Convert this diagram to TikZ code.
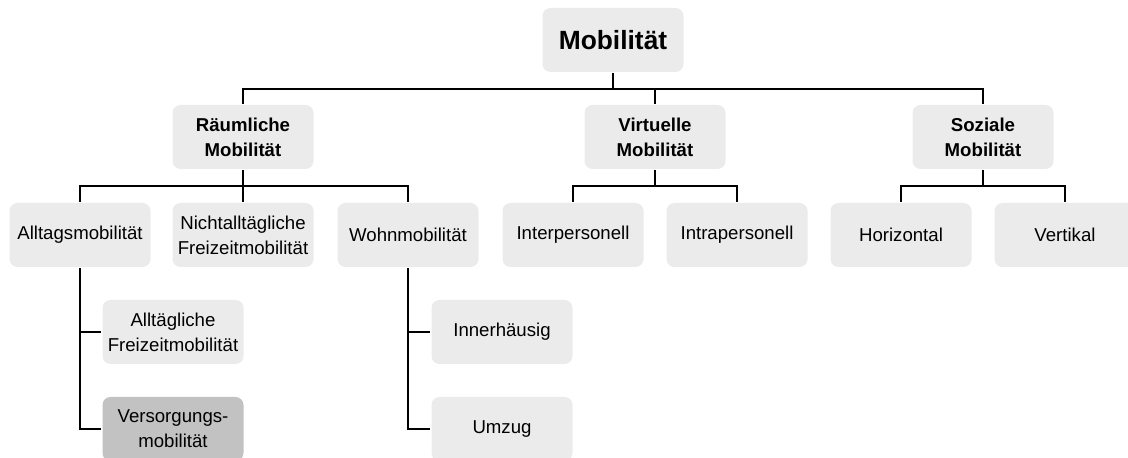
\documentclass[tikz,border=0pt]{standalone}
\usepackage{fontspec}
\setmainfont{Liberation Sans}
\usepackage{tikz}
\usetikzlibrary{positioning}
\definecolor{boxgray}{RGB}{235,235,235}
\definecolor{selgray}{RGB}{194,194,194}

\begin{document}
\begin{tikzpicture}
            [line width=1.6pt,
            a/.style={text centered,align=center,rounded corners=0.16cm,fill=boxgray,
                minimum width=2.82cm,minimum height=1.28cm,inner sep=0pt,
                font=\fontsize{10.6}{14.2}\selectfont},
            b/.style={a,font=\fontsize{10.6}{14.2}\selectfont\bfseries},
            s/.style={a,fill=selgray}]
            \useasboundingbox (0,0) rectangle (22.56,-9.16);
            \node[a,font=\fontsize{15}{18}\selectfont\bfseries] (mob) at (12.26,-0.80) {Mobilität};
            % zweite Ebene
            \node[b] (raum) at (4.86,-2.74) {Räumliche\\Mobilität};
            \node[b] (virt) at (13.10,-2.74) {Virtuelle\\Mobilität};
            \node[b] (soz) at (19.66,-2.74) {Soziale\\Mobilität};
            % dritte Ebene
            \node[a] (allt) at (1.60,-4.70) {Alltagsmobilität};
            \node[a] (nicht) at (4.86,-4.70) {Nichtalltägliche\\Freizeitmobilität};
            \node[a] (wohn) at (8.16,-4.70) {Wohnmobilität};
            \node[a] (inter) at (11.46,-4.70) {Interpersonell};
            \node[a] (intra) at (14.74,-4.70) {Intrapersonell};
            \node[a] (hori) at (18.02,-4.70) {Horizontal};
            \node[a] (vert) at (21.30,-4.70) {Vertikal};
            % vierte Ebene
            \node[a] (altf) at (3.46,-6.64) {Alltägliche\\Freizeitmobilität};
            \node[s] (vers) at (3.46,-8.58) {Versorgungs-\\mobilität};
            \node[a] (inner) at (10.04,-6.64) {Innerhäusig};
            \node[a] (umz) at (10.04,-8.58) {Umzug};

            \coordinate (b0) at (0,-1.78);
            \coordinate (b1) at (0,-3.72);
            \draw (raum.north) |- (b0 -| soz.north) -- (soz.north);
            \draw (mob.south) -- (mob.south |- b0);
            \draw (virt.north) -- (virt.north |- b0);

            \draw (allt.north) |- (b1 -| wohn.north) -- (wohn.north);
            \draw (raum.south) -- (nicht.north);
            \draw (inter.north) |- (b1 -| intra.north) -- (intra.north);
            \draw (virt.south) -- (virt.south |- b1);
            \draw (hori.north) |- (b1 -| vert.north) -- (vert.north);
            \draw (soz.south) -- (soz.south |- b1);

            \draw (allt.south) |- (vers.west);
            \draw (allt.south |- altf.west) -- (altf.west);
            \draw (wohn.south) |- (umz.west);
            \draw (wohn.south |- inner.west) -- (inner.west);
        \end{tikzpicture}
\end{document}
